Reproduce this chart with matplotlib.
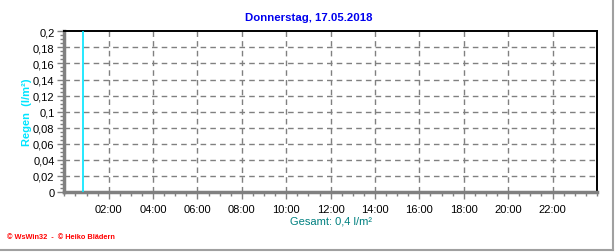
import matplotlib
matplotlib.use("Agg")
import matplotlib.pyplot as plt
from matplotlib.lines import Line2D
from matplotlib.ticker import FuncFormatter, MultipleLocator

plt.rcParams["font.family"] = ["Liberation Sans", "DejaVu Sans"]

# ---- data ------------------------------------------------------------------
TITLE = "Donnerstag, 17.05.2018"
rain_hours = [0.85]          # time of the rain record (hours)
rain_vals = [0.4]            # l/m^2, runs off the top of the 0..0.2 scale
x_ticks = [2, 4, 6, 8, 10, 12, 14, 16, 18, 20, 22]
x_labels = ["02:00", "04:00", "06:00", "08:00", "10:00", "12:00",
            "14:00", "16:00", "18:00", "20:00", "22:00"]
y_ticks = [0, 0.02, 0.04, 0.06, 0.08, 0.1, 0.12, 0.14, 0.16, 0.18, 0.2]
TOTAL = "Gesamt: 0,4 l/m²"

CYAN = "#00E5FF"
GRID = "#808080"

fig = plt.figure(figsize=(6.16, 2.53), dpi=100)
ax = fig.add_axes([0.1044, 0.2372, 0.8646, 0.6351])

ax.vlines(rain_hours, 0, rain_vals, color=CYAN, linewidth=1.2, zorder=3)

ax.set_xlim(0, 24)
ax.set_ylim(0, 0.2)
ax.set_xticks(x_ticks)
ax.set_xticklabels(x_labels)
ax.xaxis.set_minor_locator(MultipleLocator(0.5))
ax.set_yticks(y_ticks)
ax.yaxis.set_major_formatter(
    FuncFormatter(lambda v, _: f"{v:.2f}".rstrip("0").rstrip(".").replace(".", ",")))
ax.yaxis.set_minor_locator(MultipleLocator(0.005))

ax.tick_params(axis="both", which="major", direction="out", length=5,
               width=1, color=GRID, labelsize=8, labelcolor="black")
ax.tick_params(axis="both", which="minor", direction="out", length=3,
               width=1, color=GRID)
ax.tick_params(axis="x", pad=4)
ax.tick_params(axis="y", pad=2)

# grid without lines on the frame edges
for x in x_ticks:
    ax.axvline(x, color=GRID, linestyle=(0, (4, 3)), linewidth=1, zorder=1)
for y in y_ticks[1:-1]:
    ax.axhline(y, color=GRID, linestyle=(0, (4, 3)), linewidth=1, zorder=1)

ax.spines["left"].set_color(GRID)
ax.spines["left"].set_linewidth(2.5)
ax.spines["bottom"].set_color(GRID)
ax.spines["bottom"].set_linewidth(2.5)
ax.spines["top"].set_color("black")
ax.spines["top"].set_linewidth(1.4)
ax.spines["right"].set_color("black")
ax.spines["right"].set_linewidth(1.4)

fig.text(0.502, 0.928, TITLE, ha="center", va="center", fontsize=8.2,
         fontweight="bold", color="#0000EE")
fig.text(0.044, 0.555, "Regen  (l/m²)", rotation=90, ha="center", va="center",
         fontsize=8, fontweight="bold", color=CYAN)
fig.text(0.537, 0.123, TOTAL, ha="center", va="center", fontsize=8,
         color="#008080")
fig.text(0.011, 0.063, "© WsWin32  -  © Heiko Blädern", ha="left",
         va="center", fontsize=5.3, fontweight="bold", color="#FF0000")

# outer frame (right and bottom)
fig.add_artist(Line2D([0.995, 0.995], [0.008, 1.0], color="#A0A0A0",
                      linewidth=1.5, transform=fig.transFigure))
fig.add_artist(Line2D([0.0, 0.995], [0.008, 0.008], color="#A0A0A0",
                      linewidth=1.5, transform=fig.transFigure))

fig.savefig("out.png", dpi=100)
